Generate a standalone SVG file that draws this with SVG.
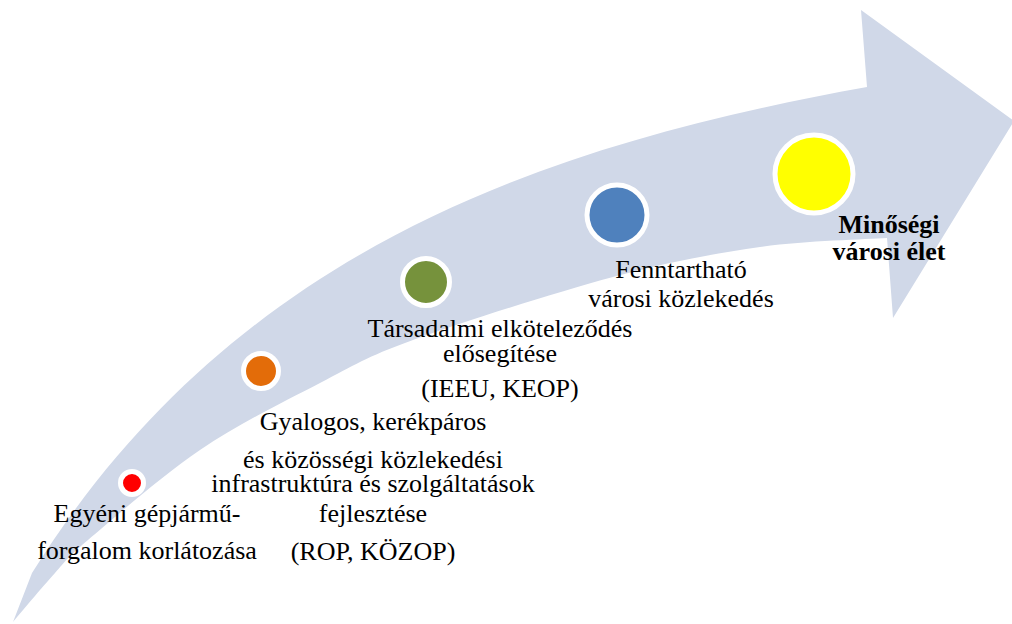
<svg xmlns="http://www.w3.org/2000/svg" width="1012" height="624" viewBox="0 0 1012 624">
  <style>
    .band { fill: #D0D8E8; stroke: none; }
    .dot { stroke: #FFFFFF; stroke-width: 5; }
    .lbl { font-family: "Liberation Serif", "Times New Roman", serif; font-size: 26px; fill: #000000; text-anchor: middle; }
    .strong { font-weight: bold; }
  </style>

  <rect x="0" y="0" width="1012" height="624" fill="#FFFFFF"/>

  <!-- curved progress arrow behind the steps -->
  <g id="progress-arrow">
    <path class="band" d="M13,622 L32,573
      C232,253 537,146.4 867,87
      L861,10 L1014,121 L893,318 L887,238
      C865.8,239.5 805.7,240.5 760,247
      C714.3,253.5 670.8,261.5 613,277
      C555.2,292.5 461.8,322.3 413,340
      C364.2,357.7 355.5,364.7 320,383
      C284.5,401.3 238.7,423.8 200,450
      C161.3,476.2 112.2,519.5 88,540
      C63.8,560.5 67.5,559.3 55,573
      C42.5,586.7 20,613.8 13,622 Z"/>
  </g>

  <g id="connectors"></g>

  <g id="step-1">
    <circle class="dot" cx="132" cy="483" r="11.5" fill="#FF0000"/>
    <text class="lbl" x="147" y="522">Egyéni gépjármű-</text>
    <text class="lbl" x="147" y="559">forgalom korlátozása</text>
  </g>

  <g id="step-2">
    <circle class="dot" cx="261" cy="371" r="17.5" fill="#E36C09"/>
    <text class="lbl" x="373" y="430">Gyalogos, kerékpáros</text>
    <text class="lbl" x="373" y="468">és közösségi közlekedési</text>
    <text class="lbl" x="373" y="492">infrastruktúra és szolgáltatások</text>
    <text class="lbl" x="373" y="522">fejlesztése</text>
    <text class="lbl" x="373" y="560">(ROP, KÖZOP)</text>
  </g>

  <g id="step-3">
    <circle class="dot" cx="426" cy="282" r="23.5" fill="#76923C"/>
    <text class="lbl" x="500" y="337">Társadalmi elköteleződés</text>
    <text class="lbl" x="500" y="362">elősegítése</text>
    <text class="lbl" x="500" y="397">(IEEU, KEOP)</text>
  </g>

  <g id="step-4">
    <circle class="dot" cx="617" cy="215" r="30" fill="#4F81BD"/>
    <text class="lbl" x="681" y="278">Fenntartható</text>
    <text class="lbl" x="681" y="307">városi közlekedés</text>
  </g>

  <g id="step-5">
    <circle class="dot" cx="814" cy="174" r="39" fill="#FFFF00"/>
    <text class="lbl strong" x="889" y="233">Minőségi</text>
    <text class="lbl strong" x="889" y="260">városi élet</text>
  </g>
</svg>
